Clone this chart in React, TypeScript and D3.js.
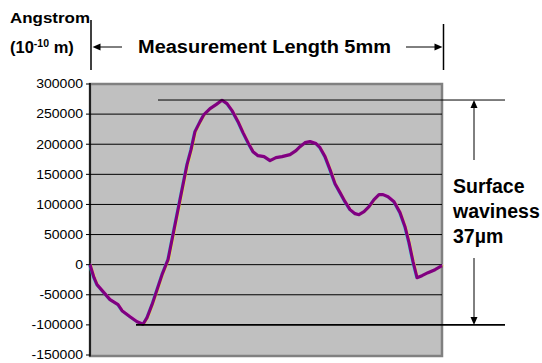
import React from "react";
import * as d3 from "d3";

// Measurement position along the 5 mm scan (mm)
const positionsMm = [
  0.0, 0.057, 0.099, 0.185, 0.284, 0.398, 0.455, 0.568, 0.668, 0.753,
  0.81, 0.881, 0.952, 1.023, 1.108, 1.179, 1.25, 1.321, 1.378, 1.435,
  1.491, 1.563, 1.619, 1.705, 1.79, 1.875, 1.946, 2.017, 2.102, 2.173,
  2.244, 2.315, 2.386, 2.472, 2.557, 2.642, 2.727, 2.841, 2.926, 2.983,
  3.054, 3.125, 3.21, 3.267, 3.338, 3.409, 3.48, 3.551, 3.622, 3.693,
  3.764, 3.821, 3.892, 3.963, 4.034, 4.105, 4.162, 4.233, 4.318, 4.403,
  4.474, 4.531, 4.588, 4.645, 4.716, 4.801, 4.901, 5.0,
];
// Surface height (Angstrom)
const heightsA = [
  0, -21600, -33200, -44800, -58100, -66400, -76400, -86400, -94700, -99000,
  -88000, -66400, -41500, -16600, 8300, 49800, 91400, 132900, 166100, 191000,
  220900, 237500, 249200, 259100, 265800, 273000, 267400, 255800, 237500, 219300,
  202600, 187700, 181000, 179400, 172700, 177700, 179400, 182700, 189400, 196000,
  202600, 204300, 201000, 194300, 179400, 157800, 134500, 119600, 104600, 91400,
  84700, 83000, 88000, 96300, 108000, 116300, 116300, 112900, 104600, 86400,
  63100, 36500, 5000, -21600, -18300, -13300, -8300, -1700,
];
const yTicks = [300000, 250000, 200000, 150000, 100000, 50000, 0, -50000, -100000, -150000];
const gridValues = [250000, 200000, 150000, 100000, 50000, 0, -50000];
const wavinessTop = 273400;
const wavinessBottom = -100000;

const FONT = "'Liberation Sans', Arial, Helvetica, sans-serif";

export default function App() {
  const W = 542, H = 363;
  const left = 90, right = 442, top = 84, bottom = 355;
  const x = d3.scaleLinear().domain([0, 5]).range([left, right]);
  const y = d3.scaleLinear().domain([-150000, 300000]).range([bottom, top]);
  const pts: [number, number][] = positionsMm.map((p, i) => [p, heightsA[i]]);
  const line = d3
    .line<[number, number]>()
    .x((d) => x(d[0]))
    .y((d) => y(d[1]))
    .curve(d3.curveLinear);
  const path = line(pts) || "";
  const yT = y(wavinessTop);
  const yB = y(wavinessBottom);
  const ax = 474;
  const labelWidth = (s: string) =>
    s.split("").reduce((w, c) => w + (c === "-" ? 4.6 : 7.8), 0);

  return (
    <svg width={W} height={H} style={{ position: "absolute", left: 0, top: 0, background: "#fff" }} fontFamily={FONT}>
      <rect x={0} y={0} width={W} height={H} fill="#fff" />
      {/* plot area */}
      <rect x={left} y={top} width={right - left} height={bottom - top + 1} fill="#C0C0C0" stroke="#808080" strokeWidth={2.5} />
      {gridValues.map((v) => (
        <line key={v} x1={left} x2={right} y1={y(v)} y2={y(v)} stroke="#000" strokeWidth={1} />
      ))}
      {/* y axis */}
      <line x1={left} x2={left} y1={top - 1} y2={bottom + 1.5} stroke="#000" strokeWidth={1.5} />
      {yTicks.map((v) => {
        const s = String(v);
        return (
          <g key={v}>
            <line x1={left - 4} x2={left} y1={y(v)} y2={y(v)} stroke="#000" strokeWidth={1} />
            <text
              x={left - 7}
              y={y(v)}
              dy="0.35em"
              textAnchor="end"
              fontSize={12.3}
              fill="#000"
              textLength={labelWidth(s)}
              lengthAdjust="spacingAndGlyphs"
            >
              {s}
            </text>
          </g>
        );
      })}
      {/* curves */}
      <path d={path} fill="none" stroke="#FFFF00" strokeWidth={0.9} opacity={0.8} transform="translate(1.6,0)" />
      <path d={path} fill="none" stroke="#00FFFF" strokeWidth={0.9} opacity={0.6} transform="translate(-1.6,0.3)" />
      <path d={path} fill="none" stroke="#FF66FF" strokeWidth={0.9} opacity={0.7} transform="translate(0.9,-1.2)" />
      <path d={path} fill="none" stroke="#800080" strokeWidth={3.2} strokeLinejoin="round" />
      {/* waviness reference lines */}
      <line x1={158} x2={505} y1={yT} y2={yT} stroke="#000" strokeWidth={1} />
      <line x1={136} x2={505} y1={yB} y2={yB} stroke="#000" strokeWidth={1.6} />
      {/* vertical arrow */}
      <line x1={ax} x2={ax} y1={yT + 6} y2={160} stroke="#000" strokeWidth={1} />
      <path d={`M${ax},${yT} L${ax - 3.5},${yT + 8} L${ax + 3.5},${yT + 8} Z`} fill="#000" />
      <line x1={ax} x2={ax} y1={258} y2={yB - 6} stroke="#000" strokeWidth={1} />
      <path d={`M${ax},${yB} L${ax - 3.5},${yB - 8} L${ax + 3.5},${yB - 8} Z`} fill="#000" />
      <text fontWeight="bold" fontSize={19.5} fill="#000">
        <tspan x={453} y={193}>Surface</tspan>
        <tspan x={453} y={218}>waviness</tspan>
        <tspan x={453} y={243}>37µm</tspan>
      </text>
      {/* header */}
      <text x={10} y={23} fontWeight="bold" fontSize={15} fill="#000" textLength={80} lengthAdjust="spacingAndGlyphs">
        Angstrom
      </text>
      <text x={10} y={53} fontWeight="bold" fontSize={16.5} fill="#000">
        (10<tspan fontSize={10.5} dy={-6}>-10</tspan>
        <tspan dy={6}> m)</tspan>
      </text>
      <line x1={91} x2={91} y1={20} y2={70} stroke="#000" strokeWidth={1.5} />
      <line x1={443.5} x2={443.5} y1={24} y2={70} stroke="#000" strokeWidth={1.5} />
      <line x1={100} x2={122} y1={47} y2={47} stroke="#000" strokeWidth={1} />
      <path d="M92.5,47 L100.5,43.5 L100.5,50.5 Z" fill="#000" />
      <line x1={406} x2={435} y1={47} y2={47} stroke="#000" strokeWidth={1} />
      <path d="M442.5,47 L434.5,43.5 L434.5,50.5 Z" fill="#000" />
      <text x={138} y={53} fontWeight="bold" fontSize={18} fill="#000" textLength={253} lengthAdjust="spacingAndGlyphs">
        Measurement Length 5mm
      </text>
    </svg>
  );
}
